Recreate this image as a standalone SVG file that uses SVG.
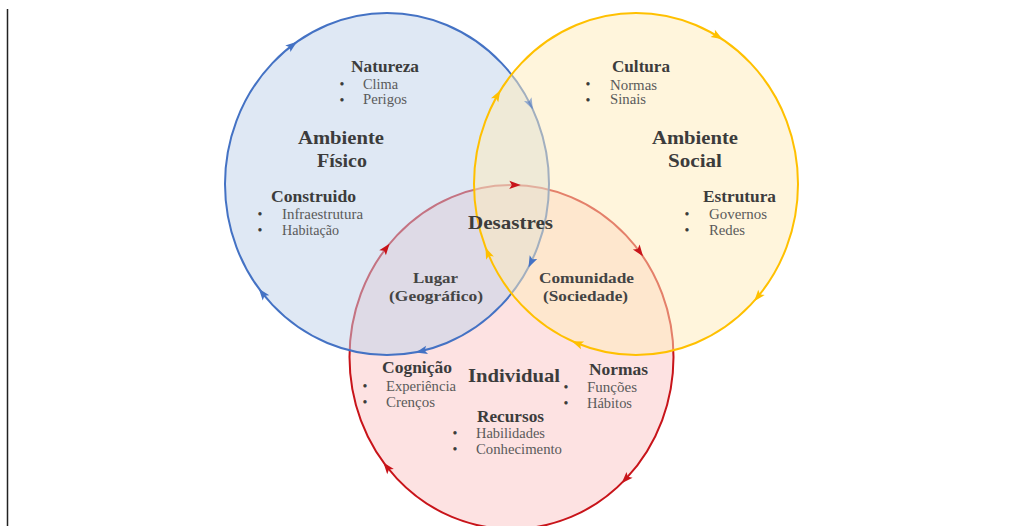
<svg xmlns="http://www.w3.org/2000/svg" width="1031" height="526" viewBox="0 0 1031 526">
<style>
text{font-family:"Liberation Serif","Times New Roman",serif;}
.big{font-size:19.5px;font-weight:bold;fill:#3c3c3c;}
.mid{font-size:15.5px;font-weight:bold;fill:#444;}
.h{font-size:16px;font-weight:bold;fill:#3c3c3c;}
.i{font-size:14px;fill:#5a5a5a;}
.d{font-size:14px;fill:#3c3c3c;text-anchor:middle;}
</style>
<defs>
<path id="ah" d="M6.5,0 L-5,-4.2 L-2.5,0 L-5,4.2 Z"/>
</defs>
<rect width="1031" height="526" fill="#fff"/>
<line x1="7.5" y1="9" x2="7.5" y2="526" stroke="#222" stroke-width="1.5"/>

<g id="individual-circle">
<ellipse cx="511.5" cy="357" rx="162" ry="172" fill="#fde2e2" stroke="#c8141a" stroke-width="2"/>
</g>
<g id="ambiente-fisico-circle">
<ellipse cx="387" cy="184" rx="162" ry="171" fill="#bfd1e9" fill-opacity="0.5" stroke="#4472c4" stroke-width="2"/>
</g>
<g id="ambiente-social-circle">
<ellipse cx="636" cy="184" rx="162" ry="171" fill="#ffebb9" fill-opacity="0.5" stroke="#ffc000" stroke-width="2"/>
</g>

<g id="connectors">
<g fill="#4472c4">
<use href="#ah" transform="translate(291.8,45.7) rotate(-37.5)"/>
<use href="#ah" transform="translate(530,103.7) rotate(63.3)" fill-opacity="0.55"/>
<use href="#ah" transform="translate(531.3,261.6) rotate(115.7)"/>
<use href="#ah" transform="translate(422.2,351) rotate(166.8)"/>
<use href="#ah" transform="translate(262.9,293.9) rotate(-128.5)"/>
</g>
<g fill="#ffc000">
<use href="#ah" transform="translate(717,35.9) rotate(31.4)"/>
<use href="#ah" transform="translate(497.1,95.9) rotate(-60.4)"/>
<use href="#ah" transform="translate(488,253.5) rotate(-112.9)"/>
<use href="#ah" transform="translate(577.9,343.6) rotate(-157.9)"/>
<use href="#ah" transform="translate(758.3,296.2) rotate(129.5)"/>
</g>
<g fill="#c8141a">
<use href="#ah" transform="translate(514.3,185) rotate(1.1)"/>
<use href="#ah" transform="translate(639.2,251.1) rotate(53.6)"/>
<use href="#ah" transform="translate(626.1,478.6) rotate(133.3)"/>
<use href="#ah" transform="translate(387.4,467.6) rotate(-128.3)"/>
<use href="#ah" transform="translate(385.6,248.8) rotate(-52.7)"/>
</g>
</g>

<g id="ambiente-fisico">
<text class="big" x="298" y="144" textLength="86" lengthAdjust="spacingAndGlyphs">Ambiente</text>
<text class="big" x="317" y="167" textLength="50" lengthAdjust="spacingAndGlyphs">Físico</text>
<text class="h" x="351" y="72" textLength="68" lengthAdjust="spacingAndGlyphs">Natureza</text>
<text class="d" x="342" y="89">•</text>
<text class="i" x="363" y="89" textLength="35" lengthAdjust="spacingAndGlyphs">Clima</text>
<text class="d" x="342" y="105">•</text>
<text class="i" x="363" y="104" textLength="44" lengthAdjust="spacingAndGlyphs">Perigos</text>
<text class="h" x="271" y="202" textLength="85" lengthAdjust="spacingAndGlyphs">Construido</text>
<text class="d" x="260" y="219">•</text>
<text class="i" x="282" y="219" textLength="81" lengthAdjust="spacingAndGlyphs">Infraestrutura</text>
<text class="d" x="260" y="235">•</text>
<text class="i" x="282" y="235" textLength="57" lengthAdjust="spacingAndGlyphs">Habitação</text>
</g>

<g id="ambiente-social">
<text class="big" x="652" y="144" textLength="86" lengthAdjust="spacingAndGlyphs">Ambiente</text>
<text class="big" x="668" y="167" textLength="54" lengthAdjust="spacingAndGlyphs">Social</text>
<text class="h" x="612" y="72" textLength="58" lengthAdjust="spacingAndGlyphs">Cultura</text>
<text class="d" x="588" y="89">•</text>
<text class="i" x="610" y="90" textLength="47" lengthAdjust="spacingAndGlyphs">Normas</text>
<text class="d" x="588" y="105">•</text>
<text class="i" x="610" y="104" textLength="36" lengthAdjust="spacingAndGlyphs">Sinais</text>
<text class="h" x="703" y="202" textLength="73" lengthAdjust="spacingAndGlyphs">Estrutura</text>
<text class="d" x="687" y="219">•</text>
<text class="i" x="709" y="219" textLength="58" lengthAdjust="spacingAndGlyphs">Governos</text>
<text class="d" x="687" y="235">•</text>
<text class="i" x="709" y="235" textLength="36" lengthAdjust="spacingAndGlyphs">Redes</text>
</g>

<g id="desastres">
<text class="big" x="468" y="229" textLength="85" lengthAdjust="spacingAndGlyphs">Desastres</text>
</g>

<g id="lugar">
<text class="mid" x="413" y="283" textLength="45" lengthAdjust="spacingAndGlyphs">Lugar</text>
<text class="mid" x="389" y="301" textLength="94" lengthAdjust="spacingAndGlyphs">(Geográfico)</text>
</g>

<g id="comunidade">
<text class="mid" x="539" y="283" textLength="95" lengthAdjust="spacingAndGlyphs">Comunidade</text>
<text class="mid" x="543" y="301" textLength="85" lengthAdjust="spacingAndGlyphs">(Sociedade)</text>
</g>

<g id="individual">
<text class="big" x="468" y="382" textLength="92" lengthAdjust="spacingAndGlyphs">Individual</text>
<text class="h" x="382" y="373" textLength="70" lengthAdjust="spacingAndGlyphs">Cognição</text>
<text class="d" x="365" y="391">•</text>
<text class="i" x="386" y="391" textLength="70" lengthAdjust="spacingAndGlyphs">Experiência</text>
<text class="d" x="365" y="407">•</text>
<text class="i" x="386" y="407" textLength="49" lengthAdjust="spacingAndGlyphs">Crenços</text>
<text class="h" x="589" y="375" textLength="59" lengthAdjust="spacingAndGlyphs">Normas</text>
<text class="d" x="566" y="392">•</text>
<text class="i" x="587" y="392" textLength="50" lengthAdjust="spacingAndGlyphs">Funções</text>
<text class="d" x="566" y="408">•</text>
<text class="i" x="587" y="408" textLength="45" lengthAdjust="spacingAndGlyphs">Hábitos</text>
<text class="h" x="477" y="422" textLength="67" lengthAdjust="spacingAndGlyphs">Recursos</text>
<text class="d" x="455" y="438">•</text>
<text class="i" x="476" y="438" textLength="69" lengthAdjust="spacingAndGlyphs">Habilidades</text>
<text class="d" x="455" y="454">•</text>
<text class="i" x="476" y="454" textLength="86" lengthAdjust="spacingAndGlyphs">Conhecimento</text>
</g>
</svg>
